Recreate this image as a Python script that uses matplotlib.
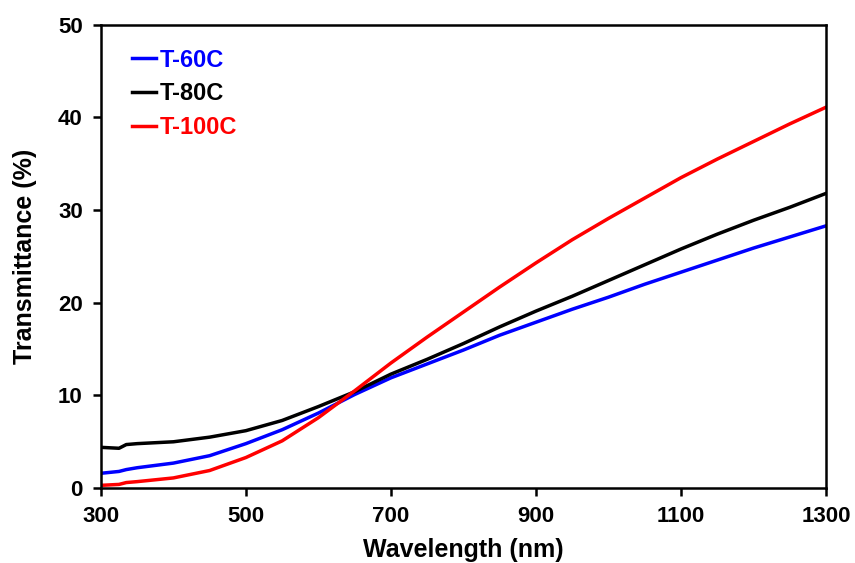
import matplotlib

matplotlib.use("Agg")
import matplotlib.pyplot as plt

plt.rcParams["font.family"] = ["Liberation Sans", "DejaVu Sans"]
plt.rcParams["font.weight"] = "bold"

# values
wavelength = [300, 325, 335, 350, 400, 450, 500, 550, 600, 650, 700, 750, 800,
              850, 900, 950, 1000, 1050, 1100, 1150, 1200, 1250, 1300]
t60 = [1.6, 1.8, 2.0, 2.2, 2.7, 3.5, 4.8, 6.3, 8.1, 10.1, 11.9, 13.4, 14.9,
       16.5, 17.9, 19.3, 20.6, 22.0, 23.3, 24.6, 25.9, 27.1, 28.3]
t80 = [4.4, 4.3, 4.7, 4.8, 5.0, 5.5, 6.2, 7.3, 8.8, 10.4, 12.3, 13.9, 15.6,
       17.4, 19.1, 20.7, 22.4, 24.1, 25.8, 27.4, 28.9, 30.3, 31.8]
t100 = [0.3, 0.4, 0.6, 0.7, 1.1, 1.9, 3.3, 5.1, 7.6, 10.5, 13.5, 16.3, 19.0,
        21.7, 24.3, 26.8, 29.1, 31.3, 33.5, 35.5, 37.4, 39.3, 41.1]
labels = ["T-60C", "T-80C", "T-100C"]
colors = ["#0000ff", "#000000", "#ff0000"]
x_ticks = [300, 500, 700, 900, 1100, 1300]
y_ticks = [0, 10, 20, 30, 40, 50]

fig = plt.figure(figsize=(8.55, 5.63), dpi=100)
ax = fig.add_axes([0.118, 0.133, 0.848, 0.823])

for series, label, color in zip([t60, t80, t100], labels, colors):
    ax.plot(wavelength, series, color=color, lw=2.5, label=label)

ax.set_xlim(300, 1300)
ax.set_ylim(0, 50)
ax.set_xticks(x_ticks)
ax.set_yticks(y_ticks)
ax.tick_params(direction="out", length=6, width=1.8, labelsize=16, pad=7)
for label in ax.get_xticklabels() + ax.get_yticklabels():
    label.set_fontweight("bold")
for spine in ax.spines.values():
    spine.set_linewidth(1.8)

ax.set_xlabel("Wavelength (nm)", fontsize=18, fontweight="bold", labelpad=8)
ax.set_ylabel("Transmittance (%)", fontsize=18, fontweight="bold", labelpad=15)

leg = ax.legend(loc="upper left", bbox_to_anchor=(0.02, 0.984), frameon=False,
                handlelength=1.0, handletextpad=0.17, labelspacing=0.45,
                borderpad=0.2, prop={"size": 17, "weight": "bold"},
                labelcolor="linecolor")

fig.savefig("out.png", dpi=100)
